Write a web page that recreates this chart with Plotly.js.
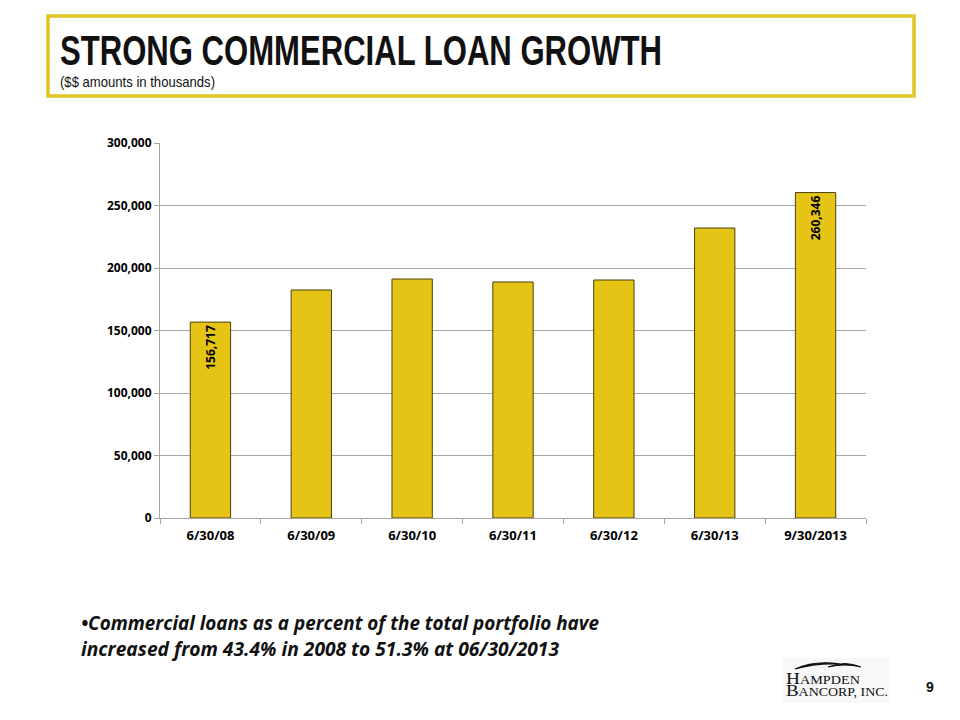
<!DOCTYPE html>
<html>
<head>
<meta charset="utf-8">
<script src="https://cdn.plot.ly/plotly-3.0.1.min.js"></script>
<style>
html,body{margin:0;padding:0;background:#fff;}
#chart{width:960px;height:720px;}
</style>
</head>
<body>
<div id="chart"></div>
<script>
const categories = ["6/30/08", "6/30/09", "6/30/10", "6/30/11", "6/30/12", "6/30/13", "9/30/2013"];
const loanValues = [156717, 182400, 191200, 188800, 190400, 232000, 260346];
const labeledIdx = [0, 6];
const yTickVals = [0, 50000, 100000, 150000, 200000, 250000, 300000];
const yTickText = ["0", "50,000", "100,000", "150,000", "200,000", "250,000", "300,000"];

const barText = loanValues.map((v, i) => labeledIdx.includes(i) ? v.toLocaleString("en-US") : "");

// pixel -> paper helpers (plot area: x 160..866, y 143..518)
const PX = x => (x - 160) / 706;
const PY = y => (518 - y) / 375;

const trace = {
  type: "bar",
  x: categories,
  y: loanValues,
  text: barText,
  textposition: "inside",
  insidetextanchor: "end",
  textangle: -90,
  textfont: {family: "Open Sans, Liberation Sans, sans-serif", size: 12, color: "#000", weight: 700},
  marker: {color: "#E5C416", line: {color: "#4A400C", width: 1}},
  hoverinfo: "none",
  cliponaxis: false
};

const swoosh1 = "M " + PX(795) + "," + PY(669) +
  " Q " + PX(815) + "," + PY(660) + " " + PX(840) + "," + PY(664) +
  " Q " + PX(815) + "," + PY(663) + " " + PX(795) + "," + PY(669) + " Z";
const swoosh2 = "M " + PX(828) + "," + PY(667) +
  " Q " + PX(845) + "," + PY(660) + " " + PX(861) + "," + PY(667) +
  " Q " + PX(845) + "," + PY(663) + " " + PX(828) + "," + PY(667) + " Z";

const layout = {
  width: 960, height: 720,
  margin: {l: 160, r: 94, t: 143, b: 202},
  paper_bgcolor: "#fff", plot_bgcolor: "#fff",
  bargap: 0.6,
  showlegend: false,
  font: {family: "Open Sans, Liberation Sans, sans-serif", color: "#000"},
  xaxis: {
    type: "category",
    showline: true, linecolor: "#A6A6A6", linewidth: 1,
    ticks: "outside", tickson: "boundaries", ticklen: 5, tickcolor: "#A6A6A6",
    ticklabelstandoff: 5,
    tickfont: {size: 13, family: "Open Sans, Liberation Sans, sans-serif", weight: 700},
    showgrid: false, zeroline: false
  },
  yaxis: {
    range: [0, 300000],
    tickvals: yTickVals, ticktext: yTickText,
    showline: true, linecolor: "#A6A6A6", linewidth: 1,
    ticks: "outside", ticklen: 5, tickcolor: "#A6A6A6",
    tickfont: {size: 12, family: "Open Sans, Liberation Sans, sans-serif", weight: 700},
    showgrid: true, gridcolor: "#A6A6A6", gridwidth: 1,
    zeroline: false
  },
  shapes: [
    {type: "rect", xref: "paper", yref: "paper",
     x0: PX(48), x1: PX(914), y0: PY(96), y1: PY(16),
     line: {color: "#E2C423", width: 3.5}, fillcolor: "rgba(0,0,0,0)"},
    {type: "rect", xref: "paper", yref: "paper",
     x0: PX(782), x1: PX(889), y0: PY(703), y1: PY(658),
     line: {width: 0}, fillcolor: "#F8F8F8", layer: "below"},
    {type: "path", xref: "paper", yref: "paper", path: swoosh1,
     fillcolor: "#111", line: {color: "#111", width: 1.2}},
    {type: "path", xref: "paper", yref: "paper", path: swoosh2,
     fillcolor: "#111", line: {color: "#111", width: 1.2}}
  ],
  annotations: [
    {xref: "paper", yref: "paper", x: PX(58), y: PY(51), xanchor: "left", yanchor: "middle",
     text: "STRONG COMMERCIAL LOAN GROWTH", showarrow: false,
     font: {family: "Liberation Sans, Arial, sans-serif", size: 42, color: "#111", weight: 700}},
    {xref: "paper", yref: "paper", x: PX(58), y: PY(82), xanchor: "left", yanchor: "middle",
     text: "($$ amounts in thousands)", showarrow: false,
     font: {family: "Liberation Sans, Arial, sans-serif", size: 14.5, color: "#111"}},
    {xref: "paper", yref: "paper", x: PX(79), y: PY(623), xanchor: "left", yanchor: "middle",
     text: "•Commercial loans as a percent of the total portfolio have",
     showarrow: false,
     font: {family: "Open Sans, Lato, sans-serif", size: 19, color: "#111", weight: 700, style: "italic"}},
    {xref: "paper", yref: "paper", x: PX(79), y: PY(649), xanchor: "left", yanchor: "middle",
     text: "increased from 43.4% in 2008 to 51.3% at 06/30/2013",
     showarrow: false,
     font: {family: "Open Sans, Lato, sans-serif", size: 19, color: "#111", weight: 700, style: "italic"}},
    {xref: "paper", yref: "paper", x: PX(784), y: PY(667), xanchor: "left", yanchor: "top",
     align: "left",
     text: "H<span style='font-size:12.5px'>AMPDEN</span><br>B<span style='font-size:12.5px'>ANCORP, INC.</span>",
     showarrow: false,
     font: {family: "Liberation Serif, DejaVu Serif, serif", size: 17, color: "#111"}},
    {xref: "paper", yref: "paper", x: PX(930), y: PY(687), xanchor: "center", yanchor: "middle",
     text: "9", showarrow: false,
     font: {family: "Liberation Sans, Arial, sans-serif", size: 14, color: "#111", weight: 700}}
  ]
};

// target widths (px) for annotation texts to match reference proportions
const fitWidths = {0: 602, 1: 155, 2: 518, 3: 478};
const logoLineWidths = [74, 102];

Plotly.newPlot("chart", [trace], layout, {displayModeBar: false, staticPlot: true}).then(function () {
  const els = document.querySelectorAll("#chart .annotation-text");
  Object.keys(fitWidths).forEach(function (k) {
    const el = els[+k];
    if (!el) return;
    const bb = el.getBBox();
    el.setAttribute("text-anchor", "start");
    el.setAttribute("x", bb.x);
    el.querySelectorAll("tspan").forEach(t => { if (t.hasAttribute("x")) t.setAttribute("x", bb.x); });
    el.setAttribute("textLength", fitWidths[k]);
    el.setAttribute("lengthAdjust", "spacingAndGlyphs");
  });
  // logo: tighten line spacing and widen letters
  const logo = els[4];
  if (logo) {
    const lines = logo.querySelectorAll("tspan.line");
    const bb = logo.getBBox();
    logo.setAttribute("text-anchor", "start");
    lines.forEach(function (ln, i) {
      ln.setAttribute("x", bb.x);
      if (i === 1) ln.setAttribute("dy", "0.7em");
      ln.setAttribute("textLength", logoLineWidths[i]);
      ln.setAttribute("lengthAdjust", "spacingAndGlyphs");
    });
  }
});
</script>
</body>
</html>
